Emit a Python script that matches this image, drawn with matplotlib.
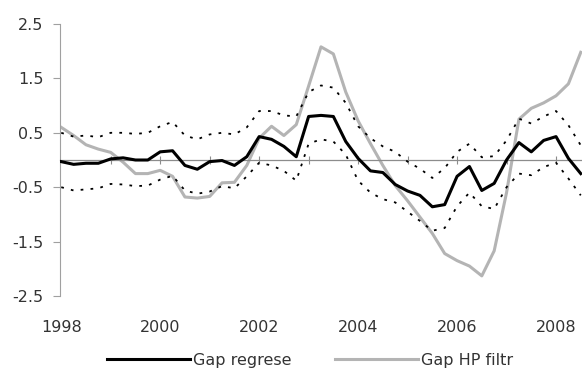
import matplotlib
matplotlib.use("Agg")
import matplotlib.pyplot as plt
import numpy as np

# quarterly data, 1998Q1 .. 2008Q3
gap_regrese = [-0.03, -0.08, -0.06, -0.06, 0.02, 0.04, 0.0, 0.0,
               0.15, 0.17, -0.1, -0.17, -0.03, -0.01, -0.1, 0.06,
               0.43, 0.38, 0.25, 0.06, 0.8, 0.82, 0.8, 0.34,
               0.03, -0.2, -0.23, -0.45, -0.57, -0.65, -0.86, -0.82,
               -0.3, -0.12, -0.56, -0.43, 0.0, 0.32, 0.15, 0.36,
               0.43, 0.03, -0.25]
gap_hp = [0.6, 0.45, 0.28, 0.2, 0.14, -0.04, -0.25, -0.25,
          -0.19, -0.3, -0.68, -0.7, -0.67, -0.42, -0.41, -0.1,
          0.4, 0.62, 0.45, 0.65, 1.36, 2.08, 1.95, 1.25,
          0.72, 0.3, -0.1, -0.47, -0.75, -1.05, -1.35, -1.72,
          -1.85, -1.95, -2.13, -1.67, -0.6, 0.75, 0.95, 1.05,
          1.18, 1.4, 1.98]
upper = [0.5, 0.43, 0.45, 0.42, 0.5, 0.5, 0.48, 0.5,
         0.62, 0.7, 0.45, 0.38, 0.47, 0.5, 0.47, 0.6,
         0.9, 0.9, 0.82, 0.8, 1.25, 1.37, 1.33, 1.05,
         0.62, 0.4, 0.25, 0.15, -0.03, -0.16, -0.33, -0.15,
         0.15, 0.3, 0.05, 0.07, 0.36, 0.76, 0.67, 0.8,
         0.9, 0.64, 0.27]
lower = [-0.5, -0.56, -0.54, -0.52, -0.44, -0.45, -0.48, -0.47,
         -0.36, -0.29, -0.56, -0.62, -0.58, -0.48, -0.52, -0.3,
         -0.05, -0.1, -0.2, -0.38, 0.3, 0.38, 0.34, 0.1,
         -0.38, -0.6, -0.72, -0.78, -0.95, -1.12, -1.3, -1.25,
         -0.85, -0.6, -0.85, -0.9, -0.5, -0.25, -0.28, -0.13,
         -0.05, -0.34, -0.65]
years = list(range(1998, 2009))
yticks = [-2.5, -1.5, -0.5, 0.5, 1.5, 2.5]

t = 1998 + np.arange(len(gap_regrese)) / 4

fig = plt.figure(figsize=(5.82, 3.70), dpi=100)
ax = fig.add_axes([60/582, 74/370, 522/582, 272/370])

dots = (0, (1.5, 4))
ax.plot(t, gap_hp, color='#b4b4b4', lw=2.2, label='Gap HP filtr', zorder=2)
ax.plot(t, gap_regrese, color='black', lw=2.2, label='Gap regrese', zorder=3)
ax.plot(t, upper, color='black', lw=1.3, linestyle=dots, zorder=4)
ax.plot(t, lower, color='black', lw=1.3, linestyle=dots, zorder=4)

ax.set_xlim(1997.975, 1998 + 42.1/4)
ax.set_ylim(-2.5, 2.5)

for s in ['top', 'right']:
    ax.spines[s].set_visible(False)
ax.spines['left'].set_color('#a0a0a0')
ax.spines['bottom'].set_position(('data', 0))
ax.spines['bottom'].set_color('#8c8c8c')
ax.spines['bottom'].set_linewidth(0.9)

ax.set_yticks(yticks)
ax.set_yticklabels([str(v) for v in yticks])
ax.tick_params(axis='y', direction='out', length=5, color='#a0a0a0',
               labelsize=11.5, labelcolor='#333333', pad=7)
ax.set_xticks(years[1:])
ax.set_xticklabels([])
ax.tick_params(axis='x', direction='inout', length=6, color='#8c8c8c')

for y in years[::2]:
    ax.text(y, -0.114, str(y), transform=ax.get_xaxis_transform(),
            ha='center', va='center', fontsize=11.5, color='#333333')

handles, labels = ax.get_legend_handles_labels()
fig.legend(handles[::-1], labels[::-1], loc='center', bbox_to_anchor=(0.533, 0.026),
           ncol=2, frameon=False, fontsize=11.5, handlelength=5.2,
           handletextpad=0.2, columnspacing=2.7, labelcolor='#333333')

fig.savefig('out.png', dpi=100)
